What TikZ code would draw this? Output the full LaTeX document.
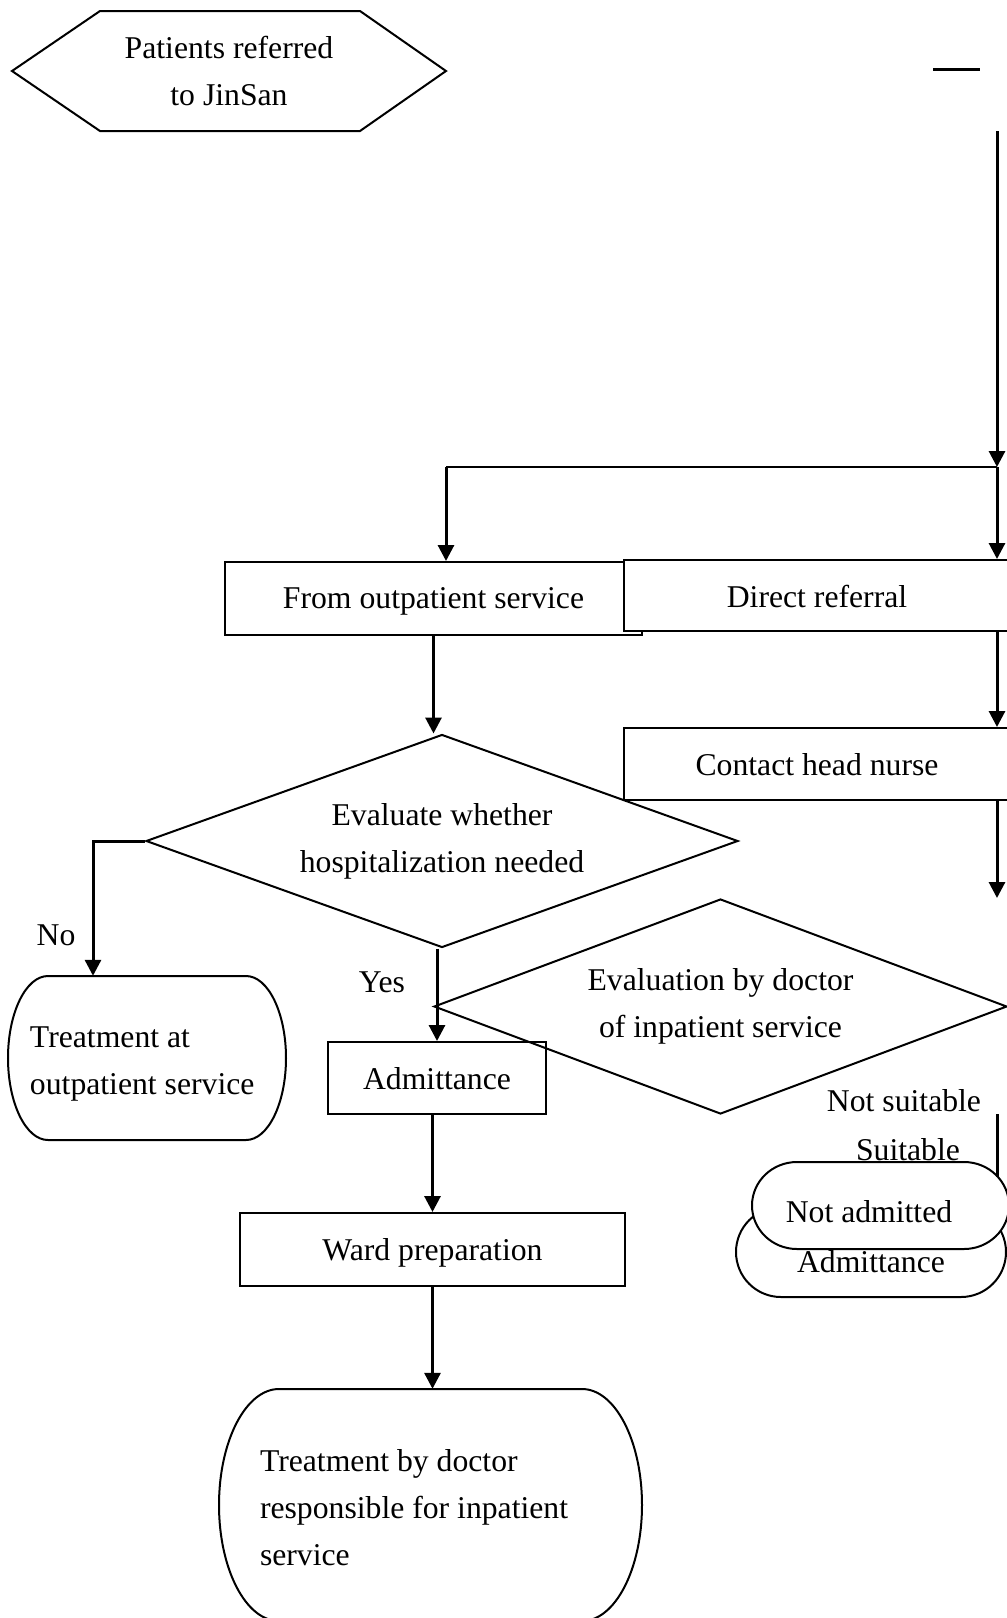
\documentclass[tikz,border=0pt]{standalone}
\usepackage{fontspec}
\setmainfont{Liberation Serif}
\usetikzlibrary{arrows.meta,shapes.geometric}
\newcommand\termshape[5]{%
 \pgfmathsetmacro\mtL{#1}\pgfmathsetmacro\mtT{#2}\pgfmathsetmacro\mtR{#3}\pgfmathsetmacro\mtB{#4}\pgfmathsetmacro\mtX{#5}%
 \pgfmathsetmacro\mtM{(\mtT+\mtB)/2}\pgfmathsetmacro\mtH{(\mtB-\mtT)/2}%
 \pgfmathsetmacro\mtLa{\mtL+\mtX}\pgfmathsetmacro\mtRa{\mtR-\mtX}%
 \pgfmathsetmacro\mtLb{\mtLa-0.5523*\mtX}\pgfmathsetmacro\mtRb{\mtRa+0.5523*\mtX}%
 \pgfmathsetmacro\mtU{\mtM-0.5523*\mtH}\pgfmathsetmacro\mtD{\mtM+0.5523*\mtH}%
 \draw[termline] (\mtLa,\mtT) -- (\mtRa,\mtT) .. controls (\mtRb,\mtT) and (\mtR,\mtU) .. (\mtR,\mtM)
   .. controls (\mtR,\mtD) and (\mtRb,\mtB) .. (\mtRa,\mtB) -- (\mtLa,\mtB)
   .. controls (\mtLb,\mtB) and (\mtL,\mtD) .. (\mtL,\mtM)
   .. controls (\mtL,\mtU) and (\mtLb,\mtT) .. cycle;}
\newcommand\lowered[2]{\raisebox{-#1}[\height][\depth]{#2}}
\begin{document}
\begin{tikzpicture}[x=1pt,y=-1pt,
  every node/.style={font=\fontsize{31.7pt}{47pt}\selectfont, inner sep=0pt},
  box/.style={draw, rectangle, line width=2pt, fill=white},
  dia/.style={draw, diamond, line width=2pt},
  termline/.style={line width=2pt, fill=white},
  hexline/.style={line width=2pt},
  conn/.style={line width=3pt},
  thinconn/.style={line width=2.2pt},
  arr/.style={line width=3pt, -{Triangle[length=16pt,width=16pt]}},
  lbl/.style={inner sep=0pt}]
\useasboundingbox (0,0) rectangle (1007,1618);
\clip (0,0) rectangle (1007,1618);

% start hexagon
\draw[hexline] (12,71) -- (100,11) -- (360,11) -- (446,71) -- (360,131) -- (100,131) -- cycle;
\node[align=center] (start) at (229,71) {Patients referred\\to JinSan};

% lone short line
\draw[conn] (933,69) -- (980,69);

% boxes
\node[box, minimum width=417pt, minimum height=73pt] (fromout) at (433.5,598.5) {\lowered{3pt}{From outpatient service}};
\node[box, minimum width=386pt, minimum height=71pt] (direct) at (817,595.5) {\lowered{1pt}{Direct referral}};
\node[box, minimum width=386pt, minimum height=72pt] (contact) at (817,764) {\lowered{1pt}{Contact head nurse}};
\node[box, minimum width=218pt, minimum height=72pt] (admit) at (437,1078) {\lowered{1pt}{Admittance}};
\node[box, minimum width=385pt, minimum height=73pt] (ward) at (432.5,1249.5) {\lowered{3pt}{Ward preparation}};

% diamonds
\node[dia, aspect=2.78, minimum width=592pt, minimum height=213pt, align=center] (evalw) at (442,841) {Evaluate whether\\hospitalization needed};
\node[dia, aspect=2.67, minimum width=573pt, minimum height=215pt, align=center] (evald) at (720.5,1006.5) {Evaluation by doctor\\of inpatient service};

% terminators
\termshape{8}{976}{286}{1140}{40}
\node[minimum width=278pt, minimum height=164pt] (treatout) at (147,1058)
  {\lowered{4pt}{\makebox[234pt][l]{\begin{tabular}{@{}l@{}}Treatment at\\outpatient service\end{tabular}}}};
\termshape{219}{1389}{642}{1621}{60}
\node[minimum width=423pt, minimum height=232pt] (treatdoc) at (430.5,1505)
  {\lowered{4pt}{\makebox[341pt][l]{\begin{tabular}{@{}l@{}}Treatment by doctor\\responsible for inpatient\\service\end{tabular}}}};

% labels
\node[lbl] (lno) at (56,935) {No};
\node[lbl] (lyes) at (382,982) {Yes};
\node[lbl] (lns) at (904,1101) {Not suitable};
\node[lbl] (lsu) at (908,1150) {Suitable};

% stacked terminators
\termshape{736}{1207}{1006}{1297}{45}
\node[minimum width=270pt, minimum height=90pt] (admit2) at (871,1262) {Admittance};
\termshape{752}{1162}{1009}{1249}{45}
\node[minimum width=257pt, minimum height=87pt] (notadm) at (869,1212) {Not admitted};

% coordinates
\coordinate (c0) at (997,131);
\coordinate (j) at (997,467);
\coordinate (jl) at (446,467);
\coordinate (c1) at (997,898);
\coordinate (cno) at (93,0);
\coordinate (c2) at (997,1114);
\coordinate (c3) at (997,1177);

% connectors
\draw[arr] (c0) -- (j);
\draw[thinconn] (jl) -- (j);
\draw[arr] (j) -- (j |- direct.north);
\draw[arr] (jl) -- (jl |- fromout.north);
\draw[arr] (direct.south -| j) -- (contact.north -| j);
\draw[arr] (contact.south -| j) -- (c1);
\draw[arr] (fromout.south) -- (fromout.south |- evalw.north);
\draw[arr] (evalw.west) -- (evalw.west -| cno) -- (cno |- treatout.north);
\draw[arr] (evalw.south -| admit.north) -- (admit.north);
\draw[arr] (admit.south -| ward.north) -- (ward.north);
\draw[arr] (ward.south) -- (ward.south |- treatdoc.north);
\draw[conn] (c2) -- (c3);
\end{tikzpicture}
\end{document}
